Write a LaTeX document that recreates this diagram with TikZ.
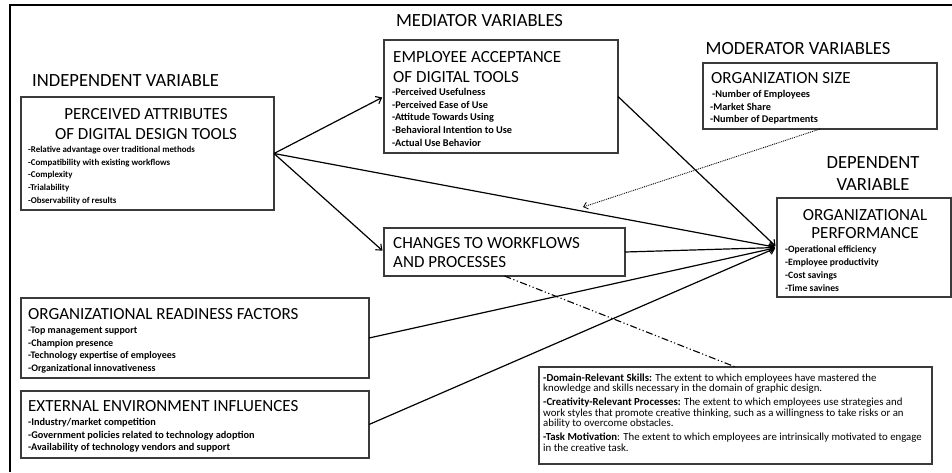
\documentclass[tikz,border=0pt]{standalone}
\usepackage{fontspec}
\setmainfont{Carlito}
\usetikzlibrary{arrows.meta}
\newcommand{\lns}[2][l]{\begin{tabular}[t]{@{}#1@{}}#2\end{tabular}}
\definecolor{boxgray}{HTML}{3A3A3A}
\tikzset{
  box/.style={draw=boxgray, line width=1.2pt, anchor=north west, inner sep=0pt, outer sep=0pt},
  hdr/.style={font=\fontsize{18.6}{22}\selectfont, inner sep=0pt},
  ttl/.style={font=\fontsize{17}{20}\selectfont, inner sep=0pt},
  blt/.style={font=\fontsize{10.3}{12.7}\selectfont\bfseries, inner sep=0pt, anchor=base west},
  arr/.style={line width=1.2pt, -{Straight Barb[length=5pt,width=8pt,line width=1.1pt]}, shorten >=2pt},
  modarr/.style={line width=0.9pt, densely dotted, -{Straight Barb[length=4pt,width=7pt,line width=0.8pt]}},
  dashdotline/.style={line width=1.1pt, dash pattern=on 7pt off 2.5pt on 1.2pt off 2.5pt on 1.2pt off 2.5pt}
}
\begin{document}
\begin{tikzpicture}[x=1pt, y={(0pt,-1pt)}]
\useasboundingbox (0,0) rectangle (952,472);
% outer frame (only top and left edges visible)
\draw[line width=2pt] (10,472) -- (10,5) -- (952,5);

% headers
\node[hdr, anchor=base west] (hIV) at (32,86.5) {INDEPENDENT VARIABLE};
\node[hdr, anchor=base] (hMV) at (479.5,26) {MEDIATOR VARIABLES};
\node[hdr, anchor=base] (hMod) at (798,54.5) {MODERATOR VARIABLES};
\node[hdr, anchor=base] (hDV) at (873,168) {\lns[c]{DEPENDENT\\VARIABLE}};

% boxes
\node[box, minimum width=253pt, minimum height=113pt] (pa) at (21,97) {};
\node[box, minimum width=234pt, minimum height=113pt] (ea) at (384,40) {};
\node[box, minimum width=234pt, minimum height=66pt] (os) at (703,63) {};
\node[box, minimum width=174pt, minimum height=99pt] (op) at (777,198) {};
\node[box, minimum width=241pt, minimum height=48pt] (ch) at (384,228) {};
\node[box, minimum width=348pt, minimum height=80pt] (orf) at (21,298) {};
\node[box, minimum width=348pt, minimum height=67pt] (eei) at (21,391) {};
\node[box, minimum width=393pt, minimum height=97pt] (cr) at (539,367) {};

% perceived attributes
\node[ttl, anchor=base] (paT) at (146,119) {\lns[c]{PERCEIVED ATTRIBUTES\\OF DIGITAL DESIGN TOOLS}};
\node[blt, font=\fontsize{8.9}{12.7}\selectfont\bfseries] (paB) at (28,152.5) {\lns{-Relative advantage over traditional methods\\-Compatibility with existing workflows\\-Complexity\\-Trialability\\-Observability of results}};

% employee acceptance
\node[ttl, anchor=base west] (eaT) at (393,62) {\lns{EMPLOYEE ACCEPTANCE\\OF DIGITAL TOOLS}};
\node[blt] (eaB) at (392,95.5) {\lns{-Perceived Usefulness\\-Perceived Ease of Use\\-Attitude Towards Using\\-Behavioral Intention to Use\\-Actual Use Behavior}};

% organization size
\node[ttl, anchor=base west] (osT) at (711,83.5) {ORGANIZATION SIZE};
\node[blt] (osB) at (710,97.5) {\lns{\hspace{2pt}-Number of Employees\\-Market Share\\-Number of Departments}};

% organizational performance
\node[ttl, anchor=base, font=\fontsize{17}{18.5}\selectfont] (opT) at (865,220) {\lns[c]{ORGANIZATIONAL\\PERFORMANCE}};
\node[blt, font=\fontsize{9.7}{13}\selectfont\bfseries] (opB) at (785,252.5) {\lns{-Operational efficiency\\-Employee productivity\\-Cost savings\\-Time savines}};

% changes
\node[ttl, anchor=base west, font=\fontsize{17}{19}\selectfont] (chT) at (393,248.5) {\lns{CHANGES TO WORKFLOWS\\AND PROCESSES}};

% organizational readiness
\node[ttl, anchor=base west] (orfT) at (28,319.5) {ORGANIZATIONAL READINESS FACTORS};
\node[blt, font=\fontsize{10}{12.7}\selectfont\bfseries] (orfB) at (28,333.5) {\lns{-Top management support\\-Champion presence\\-Technology expertise of employees\\-Organizational innovativeness}};

% external environment
\node[ttl, anchor=base west] (eeiT) at (28,411.7) {EXTERNAL ENVIRONMENT INFLUENCES};
\node[blt] (eeiB) at (28,425.5) {\lns{-Industry/market competition\\-Government policies related to technology adoption\\-Availability of technology vendors and support}};

% creativity components
\node[inner sep=0pt, anchor=base west, font=\fontsize{10.8}{10.8}\selectfont] (crT) at (543,381) {\lns{\textbf{-Domain-Relevant Skills:} The extent to which employees have mastered the\\knowledge and skills necessary in the domain of graphic design.\\[2.7pt]\textbf{-Creativity-Relevant Processes:} The extent to which employees use strategies and\\work styles that promote creative thinking, such as a willingness to take risks or an\\ability to overcome obstacles.\\[2.7pt]\textbf{-Task Motivation}: The extent to which employees are intrinsically motivated to engage\\in the creative task.}};

% connectors
\draw[arr] (pa.east) -- (ea.west);
\draw[arr] (pa.east) -- (ch.west);
\draw[arr] (pa.east) -- (op.west);
\draw[arr] (ea.east) -- (op.west);
\draw[arr] (ch.east) -- (op.west);
\draw[arr] (orf.east) -- (op.west);
\draw[arr] (eei.east) -- (op.west);
\coordinate (modtip) at (583,207);
\draw[modarr] (os.south) -- (modtip);
\draw[dashdotline] (ch.south) -- (cr.north);
\end{tikzpicture}
\end{document}
